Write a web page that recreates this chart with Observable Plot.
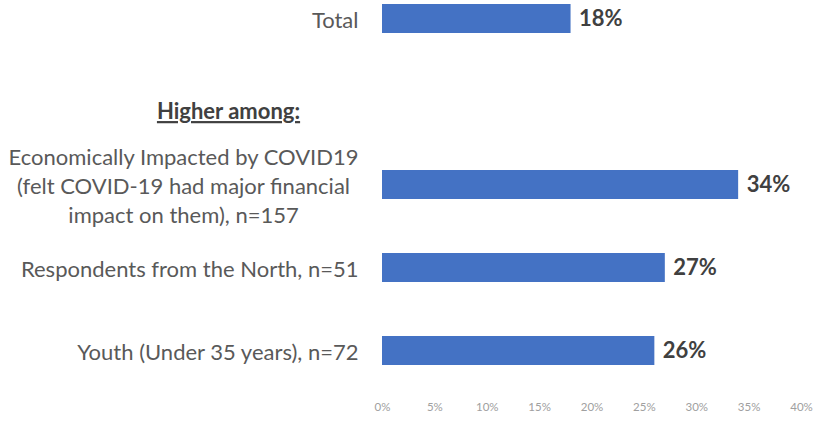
<!DOCTYPE html>
<html>
<head>
<meta charset="utf-8">
<script src="https://cdn.jsdelivr.net/npm/d3@7"></script>
<script src="https://cdn.jsdelivr.net/npm/@observablehq/plot@0.6"></script>
<style>
  html, body { margin: 0; padding: 0; background: #fff; }
  #chart svg { display: block; }
</style>
</head>
<body>
<div id="chart"></div>
<script>
const categories = [
  "Total",
  "Higher among:",
  "Economically Impacted by COVID19\n(felt COVID-19 had major financial\nimpact on them), n=157",
  "Respondents from the North, n=51",
  "Youth (Under 35 years), n=72"
];
const values = [0.18, null, 0.34, 0.27, 0.26];
const xTicks = [0, 0.05, 0.10, 0.15, 0.20, 0.25, 0.30, 0.35, 0.40];
const header = "Higher among:";

const rows = categories.map((c, i) => ({cat: c, value: values[i]}));
const bars = rows.filter(d => d.value != null);
const labelRows = rows.filter(d => d.cat !== header);

const FONT = "Lato, 'Open Sans', sans-serif";

const chart = Plot.plot({
  width: 817,
  height: 423,
  marginLeft: 382,
  marginRight: 16,
  marginTop: 3.5,
  marginBottom: 56.5,
  style: {fontFamily: FONT, background: "#fff"},
  x: {domain: [0, 0.4], ticks: xTicks, tickFormat: d3.format(".0%"), tickSize: 0, tickPadding: 36, label: null},
  y: {domain: categories, padding: 0.65, paddingOuter: 0, axis: null},
  marks: [
    Plot.axisX({ticks: xTicks, tickFormat: d3.format(".0%"), tickSize: 0, tickPadding: 36, fontSize: 11.5, fill: "#a0a0a0", label: null}),
    Plot.barX(bars, {x: "value", y: "cat", fill: "#4472C4"}),
    Plot.text(bars, {x: "value", y: "cat", text: d => d3.format(".0%")(d.value), textAnchor: "start", dx: 8, fontSize: 22, fontWeight: "bold", fill: "#404040"}),
    Plot.text(labelRows, {x: 0, y: "cat", text: "cat", textAnchor: "end", dx: -24, fontSize: 22, lineHeight: 1.32, fill: "#595959", className: "ylabels"}),
    Plot.text([header], {x: 0, y: d => d, text: d => d, textAnchor: "middle", dx: -154, dy: 10, fontSize: 22, fontWeight: "bold", fill: "#404040", className: "hdr"})
  ]
});

document.getElementById("chart").appendChild(chart);

// center the lines of multi-line labels within their block (Excel-style)
d3.select(chart).selectAll(".ylabels text").each(function() {
  const tspans = this.querySelectorAll("tspan");
  if (tspans.length > 1) {
    const w = this.getBBox().width;
    this.setAttribute("text-anchor", "middle");
    const t = this.getAttribute("transform") || "";
    this.setAttribute("transform", t + ` translate(${-w / 2},0)`);
  }
});
d3.select(chart).selectAll(".hdr text").style("text-decoration", "underline");
</script>
</body>
</html>
